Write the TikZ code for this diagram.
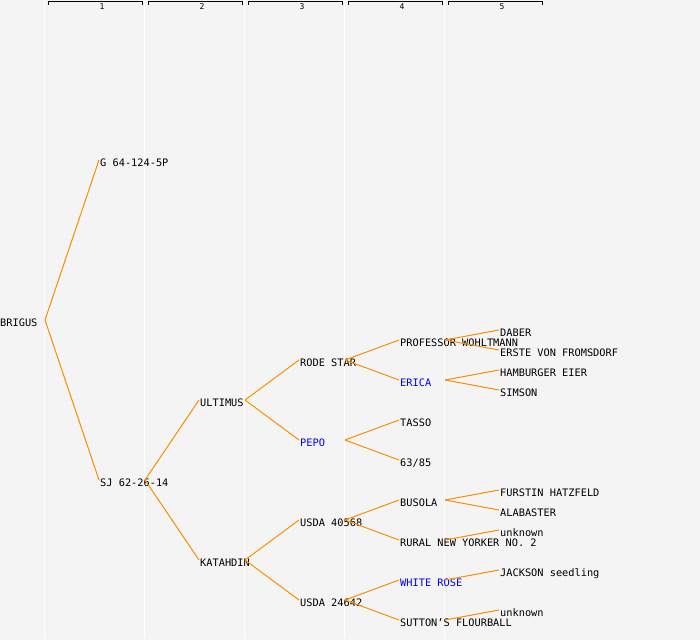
\documentclass[tikz,border=0pt]{standalone}
\usepackage{fontspec}
\newfontfamily\monof{DejaVu Sans Mono}
\definecolor{bg}{HTML}{F4F4F4}
\definecolor{ln}{HTML}{FF8C00}
\newcommand\tnode[5][]{%
  \coordinate (#2) at (#3,#4);
  \coordinate (#2-f) at (#3+46,#4);
  \node[lbl,#1] (#2-t) at (#3+1,#4+6) {#5};}
\begin{document}
\begin{tikzpicture}[x=1pt,y=-1pt,
  lbl/.style={anchor=base west,inner sep=0pt,font=\monof\fontsize{10.3}{12}\selectfont,text=black},
  blu/.style={text=blue},
  conn/.style={draw=ln,line width=1pt},
  col/.style={draw=white,line width=1pt},
  hdr/.style={draw=black,line width=1pt},
  hnum/.style={font=\monof\fontsize{8}{9}\selectfont,inner sep=0pt,anchor=center}]
\fill[bg] (0,0) rectangle (700,640);
\useasboundingbox (0,0) rectangle (700,640);
\foreach \i in {0,...,4}{
  \draw[col] (44.5+100*\i,0) -- (44.5+100*\i,638);
  \draw[hdr] (48+100*\i,4.5) -- (48+100*\i,1.5) -- (142.5+100*\i,1.5) -- (142.5+100*\i,4.5);
}
\foreach \i in {1,...,5}{
  \node[hnum] (h\i) at (2+100*\i,6.5) {\i};
}
% nodes
\tnode{brigus}{-1}{320}{BRIGUS}
\tnode{g}{99}{160}{G 64-124-5P}
\tnode{sj}{99}{480}{SJ 62-26-14}
\tnode{ultimus}{199}{400}{ULTIMUS}
\tnode{katahdin}{199}{560}{KATAHDIN}
\tnode{rode}{299}{360}{RODE STAR}
\tnode[blu]{pepo}{299}{440}{PEPO}
\tnode{usdaa}{299}{520}{USDA 40568}
\tnode{usdab}{299}{600}{USDA 24642}
\tnode{prof}{399}{340}{PROFESSOR WOHLTMANN}
\tnode[blu]{erica}{399}{380}{ERICA}
\tnode{tasso}{399}{420}{TASSO}
\tnode{nn}{399}{460}{63/85}
\tnode{busola}{399}{500}{BUSOLA}
\tnode{rural}{399}{540}{RURAL NEW YORKER NO. 2}
\tnode[blu]{white}{399}{580}{WHITE ROSE}
\tnode{sutton}{399}{620}{SUTTON’S FLOURBALL}
\tnode{daber}{499}{330}{DABER}
\tnode{erste}{499}{350}{ERSTE VON FROMSDORF}
\tnode{hamb}{499}{370}{HAMBURGER EIER}
\tnode{simson}{499}{390}{SIMSON}
\tnode{furstin}{499}{490}{FURSTIN HATZFELD}
\tnode{alab}{499}{510}{ALABASTER}
\tnode{unka}{499}{530}{unknown}
\tnode{jackson}{499}{570}{JACKSON seedling}
\tnode{unkb}{499}{610}{unknown}
% connectors
\draw[conn] (brigus-f) -- (g);
\draw[conn] (brigus-f) -- (sj);
\draw[conn] (sj-f) -- (ultimus);
\draw[conn] (sj-f) -- (katahdin);
\draw[conn] (ultimus-f) -- (rode);
\draw[conn] (ultimus-f) -- (pepo);
\draw[conn] (katahdin-f) -- (usdaa);
\draw[conn] (katahdin-f) -- (usdab);
\draw[conn] (rode-f) -- (prof);
\draw[conn] (rode-f) -- (erica);
\draw[conn] (pepo-f) -- (tasso);
\draw[conn] (pepo-f) -- (nn);
\draw[conn] (usdaa-f) -- (busola);
\draw[conn] (usdaa-f) -- (rural);
\draw[conn] (usdab-f) -- (white);
\draw[conn] (usdab-f) -- (sutton);
\draw[conn] (prof-f) -- (daber);
\draw[conn] (prof-f) -- (erste);
\draw[conn] (erica-f) -- (hamb);
\draw[conn] (erica-f) -- (simson);
\draw[conn] (busola-f) -- (furstin);
\draw[conn] (busola-f) -- (alab);
\draw[conn] (rural-f) -- (unka);
\draw[conn] (white-f) -- (jackson);
\draw[conn] (sutton-f) -- (unkb);
\end{tikzpicture}
\end{document}
